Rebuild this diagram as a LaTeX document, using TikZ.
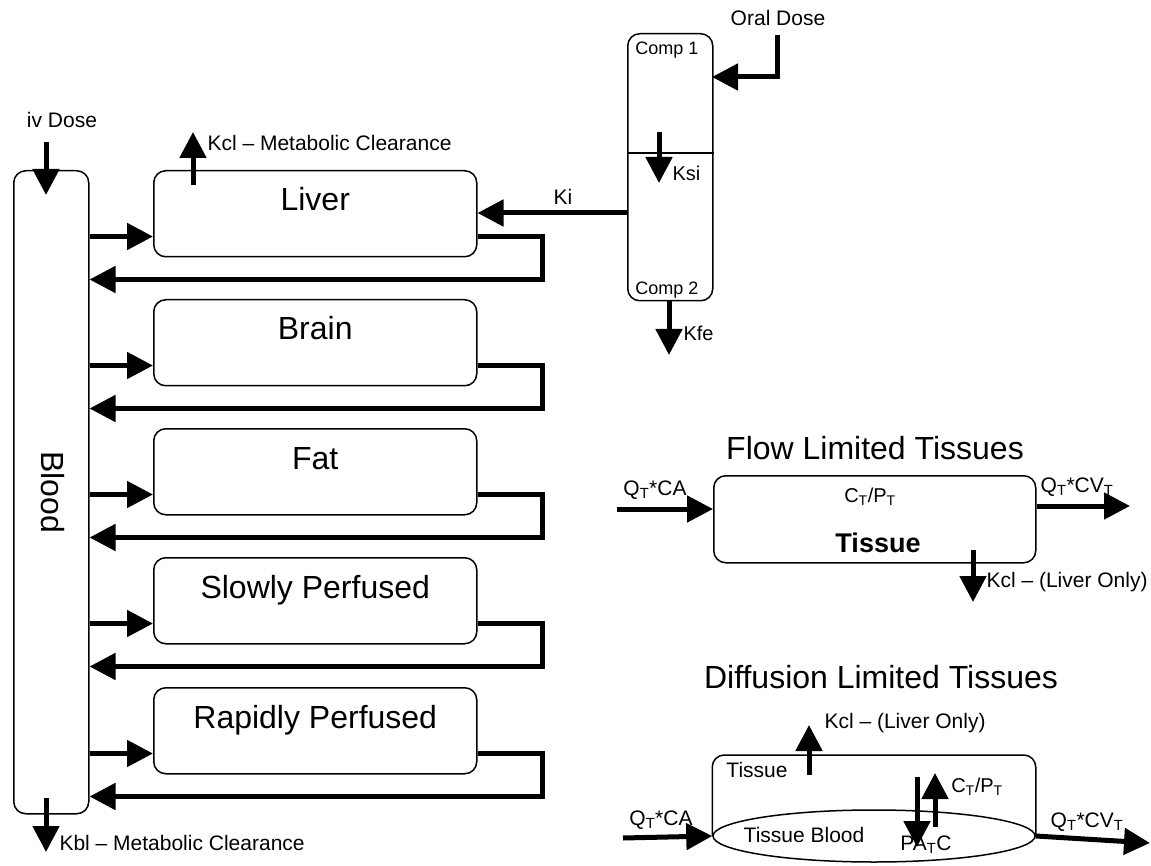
\documentclass[tikz,border=0pt]{standalone}
\usepackage{fontspec}
\setmainfont{Liberation Sans}
\usetikzlibrary{arrows.meta,shapes.geometric}

\tikzset{
  box/.style={draw, line width=1.5pt, rounded corners=12pt, inner sep=0pt, anchor=north west},
  organ/.style={box, minimum width=323pt, minimum height=86pt},
  flow/.style={line width=5pt, -{Triangle[length=26pt,width=26pt]}},
  bigtext/.style={font=\fontsize{32}{32}\selectfont},
  smalltext/.style={font=\fontsize{21}{21}\selectfont},
  midtext/.style={font=\fontsize{20}{20}\selectfont},
  comptext/.style={font=\fontsize{18}{18}\selectfont}
}

\begin{document}
\begin{tikzpicture}[x=1pt, y=-1pt]
\useasboundingbox (0,0) rectangle (1151,866);
\node[box, minimum width=75pt, minimum height=643pt] (blood) at (13,170) {};
\node[bigtext, rotate=-90] at (53,492) {Blood};
\node[smalltext] (iv) at (62,120) {iv Dose};
\coordinate (iv top) at (46,142);
\coordinate (iv in) at (46,195);
\draw[flow] (iv top) -- (iv in);
\coordinate (kbl top) at (46,798);
\coordinate (kbl end) at (46,852);
\draw[flow] (kbl top) -- (kbl end);
\node[smalltext, anchor=west] (kbl) at (56,843) {Kbl -- Metabolic Clearance};

\foreach \n/\t/\y in {liver/Liver/170, brain/Brain/299, fat/Fat/428, slow/Slowly Perfused/557, rapid/Rapidly Perfused/687}{
  \node[organ] (\n) at (153,\y) {};
  \node[bigtext, anchor=base] at ([yshift=-41pt]\n.north) {\t};
  \coordinate (\n in) at ([yshift=21pt]\n.south west);
  \coordinate (\n out) at ([yshift=21pt]\n.south east);
  \coordinate (\n back) at ([shift={(65pt,-22pt)}]\n.south east);
  \draw[flow] (blood.east |- \n in) -- (\n in);
  \draw[flow] (\n out) -| (\n back) -- (blood.east |- \n back);
}

\coordinate (kcl top) at (193,185);
\coordinate (kcl end) at (193,132);
\draw[flow] (kcl top) -- (kcl end);
\node[smalltext, anchor=west] (kcl) at (204,143) {Kcl -- Metabolic Clearance};

\node[box, minimum width=85pt, minimum height=267pt] (gut) at (627,33) {};
\draw[line width=1.5pt] ([yshift=-120pt]gut.north west) -- ([yshift=-120pt]gut.north east);
\node[comptext] (comp1) at (667,50) {Comp 1};
\node[comptext] (comp2) at (667,290) {Comp 2};
\coordinate (ksi top) at (659,132);
\coordinate (ksi end) at (659,183);
\draw[flow] (ksi top) -- (ksi end);
\node[midtext, anchor=west] (ksi) at (669,173) {Ksi};
\coordinate (kfe end) at (669,355);
\draw[flow] (gut.south -| kfe end) -- (kfe end);
\node[midtext, anchor=west] (kfe) at (680,333) {Kfe};
\node[smalltext] (oral) at (778,18) {Oral Dose};
\coordinate (oral top) at (777,35);
\coordinate (oral in) at (712,77);
\draw[flow] (oral top) |- (oral in);
\coordinate (ki) at (627,213);
\draw[flow] (ki) -- (liver.east |- ki);
\node[smalltext] (kilabel) at (563,197) {Ki};

\node[bigtext] (flowtitle) at (875,448) {Flow Limited Tissues};
\node[box, minimum width=322pt, minimum height=87pt] (flowbox) at (713,475) {};
\node[midtext] (flowct) at (870,497) {C\textsubscript{T}/P\textsubscript{T}};
\node[font=\fontsize{27}{27}\selectfont\bfseries] (flowtissue) at (878,543) {Tissue};
\coordinate (flow qin) at (617,509);
\draw[flow] (flow qin) -- (flowbox.west |- flow qin);
\node[smalltext] (flowca) at (655,490) {Q\textsubscript{T}*CA};
\coordinate (flow qout) at (1130,506);
\draw[flow] (flowbox.east |- flow qout) -- (flow qout);
\node[smalltext] (flowcv) at (1077,487) {Q\textsubscript{T}*CV\textsubscript{T}};
\coordinate (flow ktop) at (973,550);
\coordinate (flow kend) at (973,602);
\draw[flow] (flow ktop) -- (flow kend);
\node[smalltext, anchor=west] (flowkcl) at (983,582) {Kcl -- (Liver Only)};

\node[bigtext] (difftitle) at (881,677) {Diffusion Limited Tissues};
\node[draw, ellipse, line width=1.5pt, minimum width=322pt, minimum height=52pt, inner sep=0pt] (dblood) at (874,836) {};
\coordinate (dtop) at (874,755);
\draw[line width=1.5pt, rounded corners=12pt] (dblood.west) |- (dtop) -| (dblood.east);
\node[smalltext] (dtissue) at (757,770) {Tissue};
\node[smalltext] (dbloodlabel) at (804,835) {Tissue Blood};
\coordinate (d ktop) at (809,775);
\coordinate (d kend) at (809,725);
\draw[flow] (d ktop) -- (d kend);
\node[smalltext, anchor=west] (dkcl) at (821,723) {Kcl -- (Liver Only)};
\coordinate (d downtop) at (917,777);
\coordinate (d downend) at (917,847);
\draw[flow] (d downtop) -- (d downend);
\coordinate (d uptop) at (935,827);
\coordinate (d upend) at (935,773);
\draw[flow] (d uptop) -- (d upend);
\node[midtext] (dct) at (977,787) {C\textsubscript{T}/P\textsubscript{T}};
\node[smalltext] (dpa) at (926,845) {PA\textsubscript{T}C};
\coordinate (d qin) at (623,838);
\draw[flow] (d qin) -- (dblood.west);
\node[smalltext] (dca) at (661,820) {Q\textsubscript{T}*CA};
\coordinate (d qout) at (1150,843);
\draw[flow] (dblood.east) -- (d qout);
\node[smalltext] (dcv) at (1087,822) {Q\textsubscript{T}*CV\textsubscript{T}};
\end{tikzpicture}
\end{document}
